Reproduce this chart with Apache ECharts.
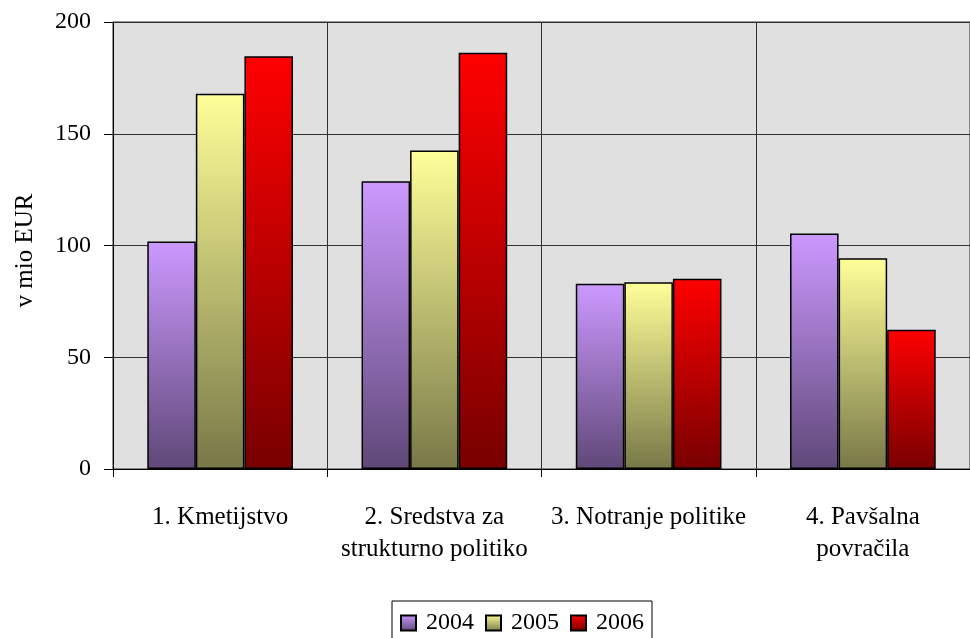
<!DOCTYPE html>
<html>
<head>
<meta charset="utf-8">
<script src="https://cdn.jsdelivr.net/npm/echarts@6/dist/echarts.min.js"></script>
<style>
  html, body { margin: 0; padding: 0; background: #fff; }
  #chart { width: 970px; height: 638px; }
</style>
</head>
<body>
<div id="chart"></div>
<script>
// Categories and yearly amounts (v mio EUR)
const categories = [
  '1. Kmetijstvo',
  '2. Sredstva za\nstrukturno politiko',
  '3. Notranje politike',
  '4. Pavšalna\npovračila'
];
const years = ['2004', '2005', '2006'];
const values2004 = [101.8, 128.7, 82.9, 105.4];
const values2005 = [167.9, 142.5, 83.6, 94.3];
const values2006 = [184.7, 186.2, 85.1, 62.3];
const yTicks = { min: 0, max: 200, interval: 50 };

const FONT = '"Liberation Serif", "Times New Roman", serif';

// Each bar fades from its light top colour to a darker shade at its base
function shade(top, bottom) {
  return new echarts.graphic.LinearGradient(0, 0, 0, 1, [
    { offset: 0, color: top },
    { offset: 1, color: bottom }
  ]);
}
const fills = [
  shade('#CC99FF', '#5F4878'),
  shade('#FFFF99', '#787848'),
  shade('#FF0000', '#780000')
];

const seriesValues = [values2004, values2005, values2006];

const chart = echarts.init(document.getElementById('chart'), null, { renderer: 'canvas' });

chart.setOption({
  animation: false,
  backgroundColor: '#ffffff',
  textStyle: { fontFamily: FONT, color: '#000' },
  grid: {
    left: 113,
    top: 22,
    right: -13,
    bottom: 169,
    show: true,
    backgroundColor: '#E0E0E0',
    borderColor: '#303030',
    borderWidth: 1
  },
  legend: {
    data: years,
    left: 392,
    top: 601,
    padding: [10, 8, 12, 8],
    borderColor: '#000',
    borderWidth: 1,
    itemWidth: 15,
    itemHeight: 15,
    itemGap: 11,
    icon: 'rect',
    textStyle: { fontFamily: FONT, fontSize: 24, color: '#000', padding: [0, 0, 0, 5] }
  },
  xAxis: {
    type: 'category',
    data: categories,
    boundaryGap: true,
    axisLine: { show: true, lineStyle: { color: '#000', width: 1 } },
    axisTick: { show: true, length: 8, lineStyle: { color: '#000' } },
    splitLine: { show: true, lineStyle: { color: '#303030', width: 1 } },
    axisLabel: {
      interval: 0,
      fontFamily: FONT,
      fontSize: 25,
      color: '#000',
      margin: 32,
      lineHeight: 32,
      align: 'center'
    }
  },
  yAxis: {
    type: 'value',
    min: yTicks.min,
    max: yTicks.max,
    interval: yTicks.interval,
    name: 'v mio EUR',
    nameLocation: 'middle',
    nameRotate: 90,
    nameGap: 75,
    nameTextStyle: { fontFamily: FONT, fontSize: 25, color: '#000', padding: [0, 10, 0, 0] },
    axisLine: { show: true, lineStyle: { color: '#000', width: 1 } },
    axisTick: { show: true, length: 9, lineStyle: { color: '#000' } },
    splitLine: { show: true, lineStyle: { color: '#303030', width: 1 } },
    axisLabel: { fontFamily: FONT, fontSize: 24, color: '#000', margin: 22 }
  },
  series: years.map((y, i) => ({
    name: y,
    type: 'bar',
    data: seriesValues[i],
    barGap: '0%',
    barCategoryGap: '32%',
    itemStyle: {
      color: fills[i],
      borderColor: '#000',
      borderWidth: 1.5
    }
  }))
});
</script>
</body>
</html>
